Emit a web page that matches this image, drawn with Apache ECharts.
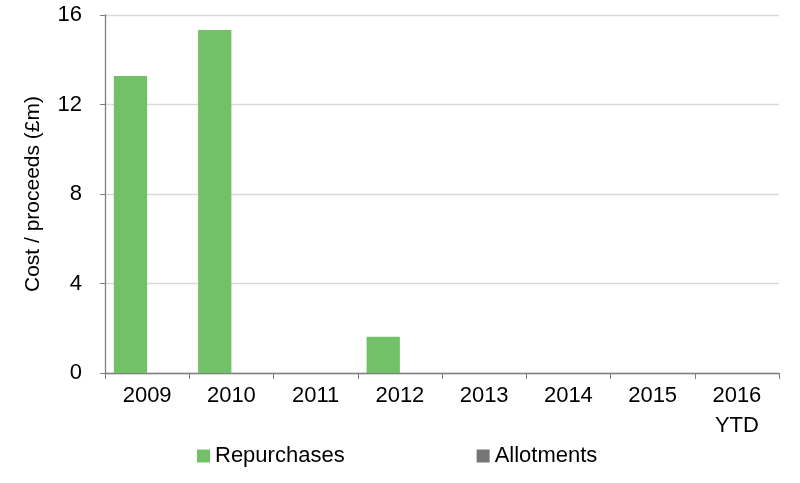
<!DOCTYPE html>
<html><head><meta charset="utf-8">
<script src="https://cdn.jsdelivr.net/npm/echarts@6/dist/echarts.min.js"></script>
<style>html,body{margin:0;padding:0;background:#fff}#c{width:800px;height:483px}</style>
</head><body><div id="c"></div>
<script>
const categories = ['2009','2010','2011','2012','2013','2014','2015','2016\nYTD'];
const repurchases = [13.27, 15.33, 0, 1.62, 0, 0, 0, 0];
const allotments = [0, 0, 0, 0, 0, 0, 0, 0];
const yTicks = {min: 0, max: 16, interval: 4};

const chart = echarts.init(document.getElementById('c'), null, {renderer: 'canvas'});
const font = '"Liberation Sans", Arial, sans-serif';
chart.setOption({
  animation: false,
  textStyle: {fontFamily: font},
  grid: {left: 105, right: 21, top: 15, bottom: 110, containLabel: false},
  legend: {
    top: 445, left: 197, itemGap: 132, padding: 0,
    itemWidth: 13, itemHeight: 13, icon: 'rect',
    textStyle: {fontFamily: font, fontSize: 22, color: '#000'},
    data: ['Repurchases', 'Allotments']
  },
  xAxis: {
    type: 'category', data: categories,
    axisLine: {lineStyle: {color: '#7f7f7f', width: 1.3}},
    axisTick: {show: true, alignWithLabel: false, length: 6, lineStyle: {color: '#7f7f7f'}},
    axisLabel: {fontSize: 22, color: '#000', margin: 8, lineHeight: 30, fontFamily: font}
  },
  yAxis: {
    type: 'value', min: yTicks.min, max: yTicks.max, interval: yTicks.interval,
    name: 'Cost / proceeds (£m)', nameLocation: 'middle', nameGap: 61, nameRotate: 90,
    nameTextStyle: {fontSize: 21, color: '#000', fontFamily: font},
    axisLine: {show: true, lineStyle: {color: '#7f7f7f', width: 1.3}},
    axisTick: {show: true, length: 5, lineStyle: {color: '#7f7f7f'}},
    axisLabel: {fontSize: 22, color: '#000', margin: 23, fontFamily: font},
    splitLine: {lineStyle: {color: '#d9d9d9', width: 1.3}}
  },
  series: [
    {name: 'Repurchases', type: 'bar', data: repurchases, barGap: '0%', barCategoryGap: '21%',
     itemStyle: {color: '#72c169'}},
    {name: 'Allotments', type: 'bar', data: allotments, barGap: '0%', barCategoryGap: '21%',
     itemStyle: {color: '#767676'}}
  ]
});
</script></body></html>
